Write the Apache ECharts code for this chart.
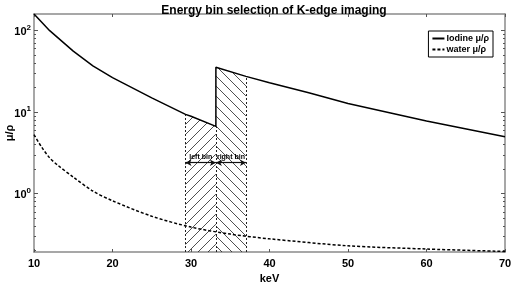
<!DOCTYPE html>
<html>
<head>
<meta charset="utf-8">
<script src="https://cdn.jsdelivr.net/npm/echarts@6/dist/echarts.min.js"></script>
<style>
  html, body { margin: 0; padding: 0; background: #fff; }
  #main { width: 512px; height: 284px; }
</style>
</head>
<body>
<div id="main"></div>
<script>
// energies (keV) and mass attenuation
var iodineKeV = [10, 12, 15, 17.5, 20, 25, 29.3, 30, 33.17, 33.17, 37, 40, 45, 50, 60, 70];
var iodineMu  = [160, 100, 56, 37, 26.5, 15, 9.4, 8.9, 6.7, 35.5, 27.5, 23, 17.3, 12.8, 7.8, 5.0];

var waterKeV = [10, 11, 12, 13, 15, 17.5, 20, 25, 30, 35, 40, 50, 60, 70];
var waterMu  = [5.3, 3.7, 2.75, 2.25, 1.6, 1.08, 0.82, 0.53, 0.39, 0.32, 0.28, 0.23, 0.21, 0.196];

var binEdges = [29.3, 33.17, 37];
var binNames = ['left bin', 'right bin'];
var arrowMu = 2.4;

var yMin = 0.193, yMax = 160;
var yMajor = [1, 10, 100];
var yMinor = [0.2, 0.3, 0.4, 0.5, 0.6, 0.7, 0.8, 0.9,
              2, 3, 4, 5, 6, 7, 8, 9,
              20, 30, 40, 50, 60, 70, 80, 90];

var FONT = 'Liberation Sans, Arial, sans-serif';
var AXIS_GRAY = '#8a8a8a';

function pairs(xs, ys){
    var out = [];
    for(var i = 0; i < xs.length; i++){
        out.push([xs[i], ys[i]]);
    }
    return out;
}

// points of the iodine curve inside a bin (lower branch at the edge for the left bin)
function binData(lo, hi, upper){
    var out = [];
    var seenEdge = false;
    for(var i = 0; i < iodineKeV.length; i++){
        var k = iodineKeV[i];
        if(k < lo || k > hi) continue;
        if(k == binEdges[1]){
            if(!upper && seenEdge) continue;
            if(upper && !seenEdge){ seenEdge = true; continue; }
            seenEdge = true;
        }
        out.push([k, iodineMu[i]]);
    }
    return out;
}

function hatch(dir){
    var c = document.createElement('canvas');
    var s = 10;
    c.width = s; c.height = s;
    var ctx = c.getContext('2d');
    ctx.strokeStyle = '#222';
    ctx.lineWidth = 0.8;
    ctx.beginPath();
    if(dir == '/'){
        ctx.moveTo(-1, s + 1); ctx.lineTo(s + 1, -1);
        ctx.moveTo(-1, 1); ctx.lineTo(1, -1);
        ctx.moveTo(s - 1, s + 1); ctx.lineTo(s + 1, s - 1);
    }else{
        ctx.moveTo(-1, -1); ctx.lineTo(s + 1, s + 1);
        ctx.moveTo(s - 1, -1); ctx.lineTo(s + 1, 1);
        ctx.moveTo(-1, s - 1); ctx.lineTo(1, s + 1);
    }
    ctx.stroke();
    return c;
}

function muAt(k, upper){
    var d = binData(k, k, upper);
    return d.length ? d[0][1] : null;
}

var dotted = { color: '#222', width: 1, type: [2, 2] };
var borderLines = [
    [{ coord: [binEdges[0], yMin] }, { coord: [binEdges[0], muAt(binEdges[0])] }],
    [{ coord: [binEdges[1], yMin] }, { coord: [binEdges[1], muAt(binEdges[1], false)] }],
    [{ coord: [binEdges[2], yMin] }, { coord: [binEdges[2], muAt(binEdges[2], true)] }]
].map(function(l){
    l[0].lineStyle = dotted;
    l[0].symbol = 'none';
    l[1].symbol = 'none';
    return l;
});

var arrowLines = [];
for(var b = 0; b < binNames.length; b++){
    arrowLines.push([
        { coord: [binEdges[b], arrowMu], name: binNames[b],
          lineStyle: { color: '#111', width: 1.2, type: 'solid' } },
        { coord: [binEdges[b + 1], arrowMu] }
    ]);
}

function yAxisBase(pos, ticks, len, showLine, labels){
    return {
        type: 'log',
        logBase: 10,
        position: pos,
        min: yMin,
        max: yMax,
        axisLine: { show: showLine, onZero: false, lineStyle: { color: AXIS_GRAY, width: 1.5 } },
        axisTick: { show: true, inside: true, length: len, customValues: ticks,
                    lineStyle: { color: '#555', width: 1 } },
        axisLabel: labels ? {
            customValues: yMajor,
            margin: 3,
            formatter: function(v){
                return '{b|10}{s|' + Math.round(Math.log10(v)) + '}';
            },
            rich: {
                b: { fontSize: 11, fontWeight: 'bold', color: '#000', fontFamily: FONT, verticalAlign: 'bottom' },
                s: { fontSize: 8, fontWeight: 'bold', color: '#000', fontFamily: FONT, verticalAlign: 'bottom', padding: [0, 0, 6, 0] }
            }
        } : { show: false },
        splitLine: { show: false }
    };
}

var option = {
    backgroundColor: '#fff',
    animation: false,
    title: {
        text: 'Energy bin selection of K-edge imaging',
        left: 269,
        textAlign: 'center',
        top: 0,
        textStyle: { fontSize: 12, fontWeight: 'bold', color: '#000', fontFamily: FONT }
    },
    legend: {
        data: ['Iodine μ/ρ', 'water μ/ρ'],
        orient: 'vertical',
        right: 19,
        top: 31,
        padding: [3, 4, 3, 3],
        itemGap: 2,
        itemWidth: 12,
        itemHeight: 8,
        borderColor: '#000',
        borderWidth: 1,
        borderRadius: 0,
        backgroundColor: '#fff',
        itemStyle: { color: 'transparent', borderColor: 'transparent', borderWidth: 0, opacity: 0 },
        textStyle: { fontSize: 9, fontWeight: 'bold', color: '#000', fontFamily: FONT, padding: [0, 0, 0, -3] }
    },
    grid: { left: 34, right: 7, top: 14, bottom: 32, containLabel: false, outerBoundsMode: 'none' },
    xAxis: [{
        type: 'value',
        position: 'bottom',
        min: 10, max: 70, interval: 10,
        name: 'keV',
        nameLocation: 'middle',
        nameGap: 21,
        nameMoveOverlap: false,
        nameTextStyle: { fontSize: 11, fontWeight: 'bold', color: '#000', fontFamily: FONT },
        axisLine: { onZero: false, lineStyle: { color: AXIS_GRAY, width: 1.5 } },
        axisTick: { inside: true, length: 3, lineStyle: { color: '#555' } },
        axisLabel: { margin: 6, fontSize: 11, fontWeight: 'bold', color: '#000', fontFamily: FONT },
        splitLine: { show: false }
    }, {
        type: 'value',
        position: 'top',
        min: 10, max: 70, interval: 10,
        axisLine: { onZero: false, lineStyle: { color: AXIS_GRAY, width: 1.5 } },
        axisTick: { inside: true, length: 3, lineStyle: { color: '#555' } },
        axisLabel: { show: false },
        splitLine: { show: false }
    }],
    yAxis: [
        (function(){
            var a = yAxisBase('left', yMajor, 4, true, true);
            a.name = 'μ/ρ';
            a.nameLocation = 'middle';
            a.nameRotate = 90;
            a.nameGap = 19;
            a.nameMoveOverlap = false;
            a.nameTextStyle = { fontSize: 11, fontWeight: 'bold', color: '#000', fontFamily: FONT };
            return a;
        })(),
        yAxisBase('left', yMinor, 2, false, false),
        yAxisBase('right', yMajor, 4, true, false),
        yAxisBase('right', yMinor, 2, false, false)
    ],
    series: [{
        type: 'line',
        name: 'left bin hatch',
        data: binData(binEdges[0], binEdges[1], false),
        symbol: 'none',
        silent: true,
        lineStyle: { width: 0 },
        areaStyle: { origin: 'start', color: { image: hatch('/'), repeat: 'repeat' }, opacity: 1 },
        z: 1,
        markLine: {
            silent: true,
            symbol: 'none',
            label: { show: false },
            data: borderLines
        }
    }, {
        type: 'line',
        name: 'right bin hatch',
        data: binData(binEdges[1], binEdges[2], true),
        symbol: 'none',
        silent: true,
        lineStyle: { width: 0 },
        areaStyle: { origin: 'start', color: { image: hatch('\\'), repeat: 'repeat' }, opacity: 1 },
        z: 1,
        markLine: {
            silent: true,
            symbol: ['arrow', 'arrow'],
            symbolSize: [5, 6],
            label: {
                show: true,
                position: 'middle',
                distance: 2,
                formatter: '{b}',
                fontSize: 7,
                fontWeight: 'bold',
                color: '#000',
                fontFamily: FONT
            },
            data: arrowLines
        }
    }, {
        type: 'line',
        name: 'Iodine μ/ρ',
        data: pairs(iodineKeV, iodineMu),
        symbol: 'none',
        color: '#000',
        lineStyle: { color: '#000', width: 1.5 },
        z: 5
    }, {
        type: 'line',
        name: 'water μ/ρ',
        data: pairs(waterKeV, waterMu),
        symbol: 'none',
        smooth: 0.3,
        color: '#000',
        lineStyle: { color: '#000', width: 1.5, type: [3, 2] },
        z: 5
    }]
};

var chart = echarts.init(document.getElementById('main'));
chart.setOption(option);
</script>
</body>
</html>
